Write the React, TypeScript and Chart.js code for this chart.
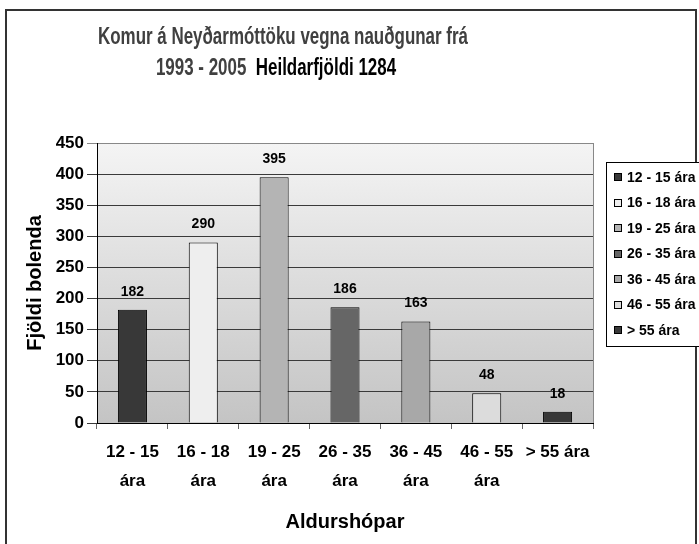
import React, { useEffect, useRef } from "react";
import { Chart, registerables } from "chart.js";

Chart.register(...registerables);

const categoryLines: string[][] = [
  ["12 - 15", "ára"],
  ["16 - 18", "ára"],
  ["19 - 25", "ára"],
  ["26 - 35", "ára"],
  ["36 - 45", "ára"],
  ["46 - 55", "ára"],
  ["> 55 ára"],
];
const legendLabels: string[] = [
  "12 - 15 ára",
  "16 - 18 ára",
  "19 - 25 ára",
  "26 - 35 ára",
  "36 - 45 ára",
  "46 - 55 ára",
  "> 55 ára",
];
const values: number[] = [182, 290, 395, 186, 163, 48, 18];
const barColors: string[] = ["#383838", "#eeeeee", "#b4b4b4", "#666666", "#a8a8a8", "#dcdcdc", "#383838"];
const titleLine1 = "Komur á Neyðarmóttöku vegna nauðgunar frá";
const titleLine2a = "1993 - 2005";
const titleLine2b = "Heildarfjöldi 1284";
const yTitle = "Fjöldi bolenda";
const xTitle = "Aldurshópar";

const FONT = "'Liberation Sans', Arial, sans-serif";

const decorPlugin = {
  id: "decor",
  beforeDraw(chart: any) {
    const { ctx, chartArea: a } = chart;
    ctx.save();
    ctx.fillStyle = "#ffffff";
    ctx.fillRect(0, 0, chart.width, chart.height);
    const g = ctx.createLinearGradient(0, a.top, 0, a.bottom);
    g.addColorStop(0, "#f4f4f4");
    g.addColorStop(1, "#c4c4c4");
    ctx.fillStyle = g;
    ctx.fillRect(a.left, a.top, a.right - a.left, a.bottom - a.top);
    ctx.restore();
  },
  afterDraw(chart: any) {
    const { ctx, chartArea: a } = chart;
    ctx.save();
    // outer frame
    ctx.fillStyle = "#333333";
    ctx.fillRect(5, 9, 2, chart.height - 9);
    ctx.fillRect(5, 9, 692, 2);
    ctx.fillRect(695, 9, 2, chart.height - 9);
    // plot right border
    ctx.strokeStyle = "#888888";
    ctx.lineWidth = 1;
    ctx.beginPath();
    ctx.moveTo(Math.round(a.right) + 0.5, a.top);
    ctx.lineTo(Math.round(a.right) + 0.5, a.bottom);
    ctx.stroke();

    // title
    ctx.font = `bold 24px ${FONT}`;
    ctx.textBaseline = "middle";
    const w1 = ctx.measureText(titleLine1).width;
    const sx = 370 / w1;
    ctx.save();
    ctx.translate(283, 37);
    ctx.scale(sx, 1);
    ctx.textAlign = "center";
    ctx.fillStyle = "#404040";
    ctx.fillText(titleLine1, 0, 0);
    ctx.restore();
    const gap = ctx.measureText("  ").width;
    const wa = ctx.measureText(titleLine2a).width;
    const wb = ctx.measureText(titleLine2b).width;
    const tot = wa + gap + wb;
    ctx.save();
    ctx.translate(276, 68);
    ctx.scale(sx, 1);
    ctx.textAlign = "left";
    ctx.fillStyle = "#404040";
    ctx.fillText(titleLine2a, -tot / 2, 0);
    ctx.fillStyle = "#000000";
    ctx.fillText(titleLine2b, -tot / 2 + wa + gap, 0);
    ctx.restore();

    // data labels
    const meta = chart.getDatasetMeta(0);
    ctx.font = `bold 14px ${FONT}`;
    ctx.fillStyle = "#000000";
    ctx.textAlign = "center";
    ctx.textBaseline = "middle";
    meta.data.forEach((bar: any, i: number) => {
      ctx.fillText(String(values[i]), bar.x, bar.y - 18);
    });

    // legend
    const lx = 606, ly = 162, lw = 93, lh = 184;
    ctx.fillStyle = "#ffffff";
    ctx.fillRect(lx, ly, lw, lh);
    ctx.strokeStyle = "#000000";
    ctx.lineWidth = 1;
    ctx.strokeRect(lx + 0.5, ly + 0.5, lw, lh);
    ctx.font = `bold 14px ${FONT}`;
    ctx.textAlign = "left";
    ctx.textBaseline = "middle";
    legendLabels.forEach((lab, i) => {
      const y = 177 + i * 25.5;
      ctx.fillStyle = barColors[i];
      ctx.fillRect(614, Math.round(y) - 4, 8, 8);
      ctx.strokeStyle = "#000000";
      ctx.strokeRect(614.5, Math.round(y) - 3.5, 7, 7);
      ctx.fillStyle = "#000000";
      ctx.fillText(lab, 627, y + 1);
    });
    ctx.restore();
  },
};

export default function App() {
  const ref = useRef<HTMLCanvasElement | null>(null);
  useEffect(() => {
    if (!ref.current) return;
    const chart = new Chart(ref.current, {
      type: "bar",
      data: {
        labels: categoryLines as any,
        datasets: [
          {
            label: "Fjöldi",
            data: values,
            backgroundColor: barColors,
            borderColor: "#000000",
            borderWidth: 1,
            categoryPercentage: 1,
            barPercentage: 0.41,
          },
        ],
      },
      options: {
        animation: false,
        responsive: false,
        devicePixelRatio: 1,
        layout: { padding: { top: 143, right: 106, left: 0, bottom: 0 } },
        plugins: {
          legend: { display: false },
          title: { display: false },
          tooltip: { enabled: false },
        },
        scales: {
          x: {
            grid: { drawOnChartArea: false, tickLength: 6, color: "#666666", offset: true },
            border: { display: true, color: "#000000", width: 1 },
            ticks: {
              color: "#000000",
              font: { family: FONT, size: 17, weight: "bold", lineHeight: "29px" } as any,
              padding: 9,
              maxRotation: 0,
              autoSkip: false,
            },
            title: {
              display: true,
              text: xTitle,
              color: "#000000",
              font: { family: FONT, size: 20, weight: "bold" },
              padding: { top: 10, bottom: 10 },
            },
            afterFit: (s: any) => {
              s.height = 121;
            },
          },
          y: {
            min: 0,
            max: 450,
            ticks: {
              stepSize: 50,
              color: "#000000",
              font: { family: FONT, size: 17, weight: "bold" },
              padding: 3,
            },
            grid: {
              color: (c: any) => (c.tick && c.tick.value === 450 ? "#888888" : "#3a3a3a"),
              tickLength: 10,
            },
            border: { display: true, color: "#000000", width: 1 },
            title: {
              display: true,
              text: yTitle,
              color: "#000000",
              font: { family: FONT, size: 20, weight: "bold" },
              padding: { top: 23, bottom: 23 },
            },
            afterFit: (s: any) => {
              s.width = 97;
            },
          },
        },
      },
      plugins: [decorPlugin],
    });
    return () => chart.destroy();
  }, []);
  return (
    <div style={{ position: "fixed", left: 0, top: 0, width: 699, height: 544 }}>
      <canvas ref={ref} width={699} height={544} style={{ width: 699, height: 544, display: "block" }} />
    </div>
  );
}
